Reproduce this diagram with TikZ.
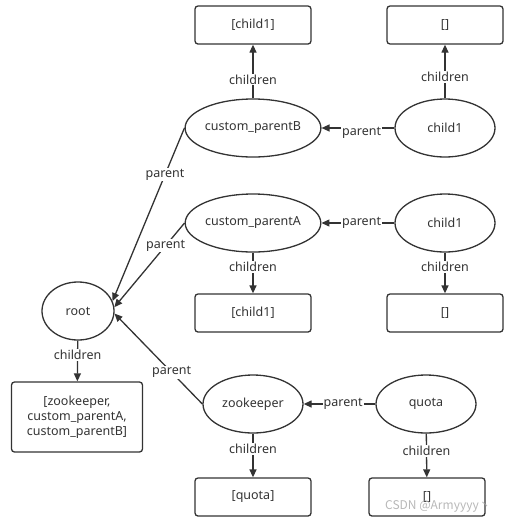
\documentclass[tikz,border=0pt]{standalone}
\usepackage{fontspec}
\setmainfont{Noto Sans}
\newfontfamily\cjk{Noto Sans CJK SC}
\usetikzlibrary{shapes.geometric,arrows.meta}
\definecolor{ink}{HTML}{333333}
\begin{document}
\begin{tikzpicture}[x=1pt,y=-1pt,
    znode/.style ={ellipse, draw=ink, line width=1.3pt, inner sep=0pt, minimum height=58pt},
    listbox/.style ={rectangle, draw=ink, line width=1.3pt, rounded corners=3pt, minimum width=116pt, minimum height=38pt, align=center},
    link/.style ={draw=ink, line width=1.3pt, -{Triangle[length=8pt,width=7pt]}},
    lbl/.style ={fill=white, inner sep=1pt, text=ink},
    every node/.style ={font=\fontsize{12.5}{15}\selectfont, text=ink}]
   \useasboundingbox (0,0) rectangle (514,523);
   % list boxes
   \node[listbox] (boxB) at (253,25)  {[child1]};
   \node[listbox] (boxB1) at (445,25)  {[]};
   \node[listbox] (boxA) at (253,313)  {[child1]};
   \node[listbox] (boxA1) at (445,313)  {[]};
   \node[listbox, minimum width=131pt, minimum height=70pt] (boxR) at (77,417)  {[zookeeper,\\custom\_parentA,\\custom\_parentB]};
   \node[listbox] (boxZ) at (253,497)  {[quota]};
   \node[listbox] (boxQ) at (427,497)  {[]};
   % znodes
   \node[znode, minimum width=134pt] (cpB) at (253,128)  {custom\_parentB};
   \node[znode, minimum width=100pt] (chB) at (445,128)  {child1};
   \node[znode, minimum width=134pt] (cpA) at (253,223)  {custom\_parentA};
   \node[znode, minimum width=100pt] (chA) at (445,223)  {child1};
   \node[znode, minimum width=72pt] (root) at (78,311)  {root};
   \node[znode, minimum width=100pt] (zk) at (253,404)  {zookeeper};
   \node[znode, minimum width=100pt] (quota) at (426,404)  {quota};
   % children
   \draw[link] (cpB) to node[lbl, pos=0.35] {children} (boxB);
   \draw[link] (chB) to node[lbl, pos=0.4] {children} (boxB1);
   \draw[link] (cpA) to node[lbl, pos=0.35] {children} (boxA);
   \draw[link] (chA) to node[lbl, pos=0.35] {children} (boxA1);
   \draw[link] (root) to node[lbl, pos=0.35] {children} (boxR);
   \draw[link] (zk) to node[lbl, pos=0.35] {children} (boxZ);
   \draw[link] (quota) to node[lbl, pos=0.4] {children} (boxQ);
   % parent
   \draw[link] (chB) to node[lbl, pos=0.45, yshift=-5pt] {parent} (cpB);
   \draw[link] (chA) to node[lbl, pos=0.45] {parent} (cpA);
   \draw[link] (quota) to node[lbl, pos=0.45] {parent} (zk);
   \draw[link] (cpB.west) to node[lbl, pos=0.27] {parent} (root.16);
   \draw[link] (cpA.west) to node[lbl, pos=0.27] {parent} (root.6);
   \draw[link] (zk.west) to node[lbl, pos=0.35] {parent} (root.-4);
   % watermark
   \node[text=gray!70, opacity=0.8, font=\cjk\fontsize{12}{14}\selectfont] (mark) at (438,506) {CSDN @Armyyyy丶};
 \end{tikzpicture}
\end{document}
